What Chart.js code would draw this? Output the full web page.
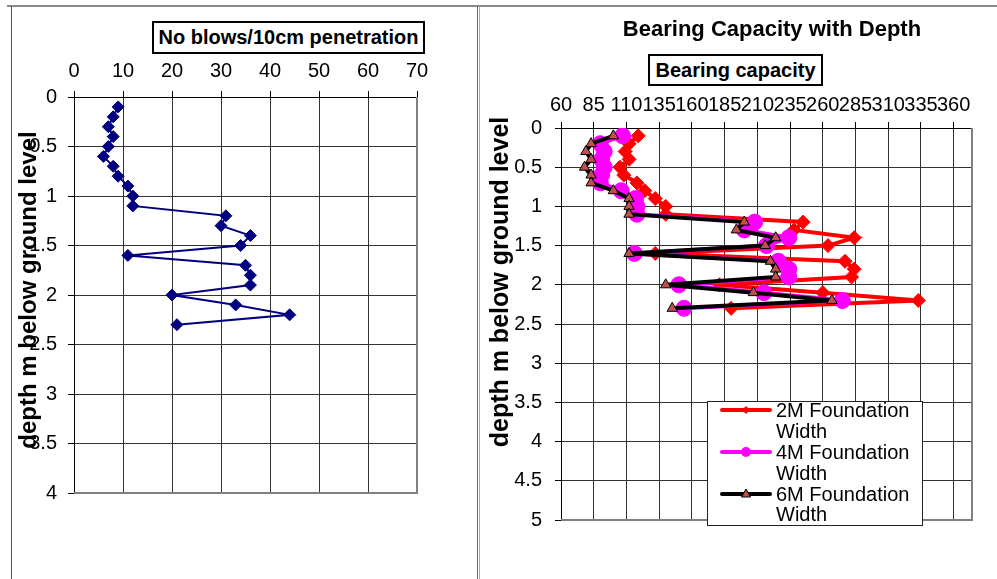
<!DOCTYPE html>
<html>
<head>
<meta charset="utf-8">
<title>Blow count and bearing capacity with depth</title>
<script src="https://cdn.jsdelivr.net/npm/chart.js@4.4.0/dist/chart.umd.min.js"></script>
<style>
  body { margin: 0; background: #fff; font-family: "Liberation Sans", Arial, sans-serif; color: #000; }
  #page { position: relative; width: 997px; height: 579px; overflow: hidden; background: #fff; }
  canvas { position: absolute; top: 0; }
  .rule { position: absolute; }
  .boxTitle {
    position: absolute; box-sizing: border-box; border: 2px solid #000; background: #fff;
    font-weight: bold; font-size: 20px; white-space: nowrap;
    display: flex; align-items: center; justify-content: center;
  }
  .axisTitle {
    position: absolute; width: 400px; height: 30px; line-height: 30px;
    text-align: center; font-weight: bold; white-space: nowrap; transform: rotate(-90deg);
  }
  #chartTitle { position: absolute; left: 572px; top: 16px; width: 400px; text-align: center;
    font-weight: bold; font-size: 22px; line-height: 25px; white-space: nowrap; }
  #legend { position: absolute; left: 707px; top: 401px; width: 216px; height: 125px;
    box-sizing: border-box; border: 1px solid #222; background: #fff; }
  .legItem { position: absolute; left: 0; width: 214px; height: 42px; }
  .legItem svg { position: absolute; left: 12px; top: 0; }
  .legItem span { position: absolute; left: 68px; top: 0; width: 140px; font-size: 20px; line-height: 20.8px; }
</style>
</head>
<body>
<div id="page">
  <div class="rule" style="left:7px;top:5px;width:990px;height:2px;background:#8a8a8a"></div>
  <div class="rule" style="left:11px;top:6px;width:1px;height:573px;background:#555"></div>
  <div class="rule" style="left:477px;top:6px;width:1px;height:573px;background:#666"></div>
  <div class="rule" style="left:479px;top:6px;width:1px;height:573px;background:#aaa"></div>

  <canvas id="blows" width="478" height="579" style="left:0"></canvas>
  <canvas id="bearing" width="517" height="579" style="left:480px"></canvas>

  <div class="boxTitle" style="left:152px;top:21px;width:273px;height:33px">No blows/10cm penetration</div>
  <div class="axisTitle" style="left:-172px;top:275px;font-size:24px">depth m below ground level</div>

  <div id="chartTitle">Bearing Capacity with Depth</div>
  <div class="boxTitle" style="left:648px;top:54px;width:175px;height:32px">Bearing capacity</div>
  <div class="axisTitle" style="left:299px;top:267px;font-size:25px">depth m below ground level</div>
  <div id="legend"></div>
</div>

<script>
// depth of each reading, m below ground level
const depths = [0.1, 0.2, 0.3, 0.4, 0.5, 0.6, 0.7, 0.8, 0.9, 1.0, 1.1, 1.2,
                1.3, 1.4, 1.5, 1.6, 1.7, 1.8, 1.9, 2.0, 2.1, 2.2, 2.3];

// blows per 10cm penetration
const blows = [9, 8, 7, 8, 7, 6, 8, 9, 11, 12, 12, 31, 30, 36, 34, 11, 35, 36, 36, 20, 33, 44, 21];

// bearing capacity for each foundation width
const bearing2m = [119, 112, 109, 112, 105, 108, 118, 124, 132, 140, 140, 245, 238, 284, 264, 132, 277, 284, 282, 181, 260, 333, 190];
const bearing4m = [107, 90, 93, 91, 93, 91, 90, 106, 117, 118, 118, 208, 200, 234, 217, 116, 226, 234, 234, 150, 215, 275, 154];
const bearing6m = [100, 83, 79, 83, 78, 83, 83, 100, 112, 112, 112, 200, 194, 224, 216, 112, 220, 224, 224, 140, 207, 267, 145];

const blowTicks = [0, 10, 20, 30, 40, 50, 60, 70];
const capacityTicks = [60, 85, 110, 135, 160, 185, 210, 235, 260, 285, 310, 335, 360];
const depthTicks = [0, 0.5, 1, 1.5, 2, 2.5, 3, 3.5, 4, 4.5, 5];

const points = vals => vals.map((v, i) => ({x: v, y: depths[i]}));
const tickFont = {family: 'Liberation Sans', size: 20};

function setTicks(list) {
  return s => { s.ticks = list.map(value => ({value})); };
}

function topAxis(min, max, list, pad, height) {
  return {
    type: 'linear', position: 'top', min: min, max: max,
    afterBuildTicks: setTicks(list),
    afterFit: s => { s.height = height; },
    grid: {color: '#333', tickColor: '#000', tickLength: 6, lineWidth: 1},
    border: {color: '#000', width: 1},
    ticks: {font: tickFont, color: '#000', padding: pad, autoSkip: false,
            maxRotation: 0, minRotation: 0, callback: v => String(v)}
  };
}

function depthAxis(max, pad, width) {
  return {
    type: 'linear', position: 'left', reverse: true, min: 0, max: max,
    afterBuildTicks: setTicks(depthTicks.filter(v => v <= max)),
    afterFit: s => { s.width = width; },
    grid: {color: '#333', tickColor: '#000', tickLength: 6, lineWidth: 1},
    border: {color: '#000', width: 1},
    ticks: {font: tickFont, color: '#000', padding: pad, autoSkip: false, callback: v => String(v)}
  };
}

// grey frame on the right and bottom of the plot area
const plotFrame = {
  id: 'plotFrame',
  beforeDatasetsDraw(chart) {
    const {ctx, chartArea: a} = chart;
    ctx.save();
    ctx.strokeStyle = '#808080';
    ctx.lineWidth = 2;
    ctx.beginPath();
    ctx.moveTo(a.right, a.top);
    ctx.lineTo(a.right, a.bottom);
    ctx.lineTo(a.left, a.bottom);
    ctx.stroke();
    ctx.restore();
  }
};

const baseOptions = {
  responsive: false,
  devicePixelRatio: 1,
  animation: false,
  events: [],
  plugins: {legend: {display: false}, tooltip: {enabled: false}}
};

new Chart(document.getElementById('blows'), {
  type: 'scatter',
  data: {
    datasets: [{
      label: 'No blows/10cm penetration',
      data: points(blows),
      showLine: true,
      borderColor: '#000080',
      borderWidth: 2,
      pointStyle: 'rectRot',
      pointRadius: 6,
      pointBackgroundColor: '#000080',
      pointBorderColor: '#000080',
      pointBorderWidth: 1
    }]
  },
  options: Object.assign({}, baseOptions, {
    layout: {padding: {left: 0, top: 0, right: 61, bottom: 86}},
    scales: {
      x: topAxis(0, 70, blowTicks, 8, 97),
      y: depthAxis(4, 11, 74)
    }
  }),
  plugins: [plotFrame]
});

const bearingChart = new Chart(document.getElementById('bearing'), {
  type: 'scatter',
  data: {
    datasets: [{
      label: '2M Foundation Width',
      data: points(bearing2m),
      showLine: true,
      borderColor: '#FF0000',
      borderWidth: 4,
      pointStyle: 'rectRot',
      pointRadius: 7,
      pointBackgroundColor: '#FF0000',
      pointBorderColor: '#FF0000',
      pointBorderWidth: 1,
      order: 3
    }, {
      label: '4M Foundation Width',
      data: points(bearing4m),
      showLine: true,
      borderColor: '#FF00FF',
      borderWidth: 4,
      pointStyle: 'circle',
      pointRadius: 8,
      pointBackgroundColor: '#FF00FF',
      pointBorderColor: '#FF00FF',
      pointBorderWidth: 1,
      order: 2
    }, {
      label: '6M Foundation Width',
      data: points(bearing6m),
      showLine: true,
      borderColor: '#000000',
      borderWidth: 4,
      pointStyle: 'triangle',
      pointRadius: 6,
      pointBackgroundColor: '#C0504D',
      pointBorderColor: '#000000',
      pointBorderWidth: 1,
      order: 1
    }]
  },
  options: Object.assign({}, baseOptions, {
    layout: {padding: {left: 0, top: 0, right: 25, bottom: 59}},
    scales: {
      x: topAxis(60, 374, capacityTicks, 5, 128),
      y: depthAxis(5, 13, 81)
    }
  }),
  plugins: [plotFrame]
});

// legend sample: line with the series marker on it
function sampleSvg(ds) {
  const c = ds.borderColor, f = ds.pointBackgroundColor;
  let mark;
  if (ds.pointStyle === 'circle') {
    mark = '<circle cx="26" cy="10" r="5" fill="' + f + '"/>';
  } else if (ds.pointStyle === 'triangle') {
    mark = '<polygon points="26,5 30.5,13 21.5,13" fill="' + f + '" stroke="#000" stroke-width="1"/>';
  } else {
    mark = '<polygon points="26,6 30,10 26,14 22,10" fill="' + f + '"/>';
  }
  return '<svg width="52" height="20"><line x1="2" y1="10" x2="50" y2="10" stroke="' + c +
         '" stroke-width="4" stroke-linecap="round"/>' + mark + '</svg>';
}

const legendBox = document.getElementById('legend');
bearingChart.data.datasets.forEach((ds, i) => {
  const item = document.createElement('div');
  item.className = 'legItem';
  item.style.top = (i * 41.6 - 1.6) + 'px';
  item.innerHTML = sampleSvg(ds) + '<span>' + ds.label + '</span>';
  legendBox.appendChild(item);
});
</script>
</body>
</html>
